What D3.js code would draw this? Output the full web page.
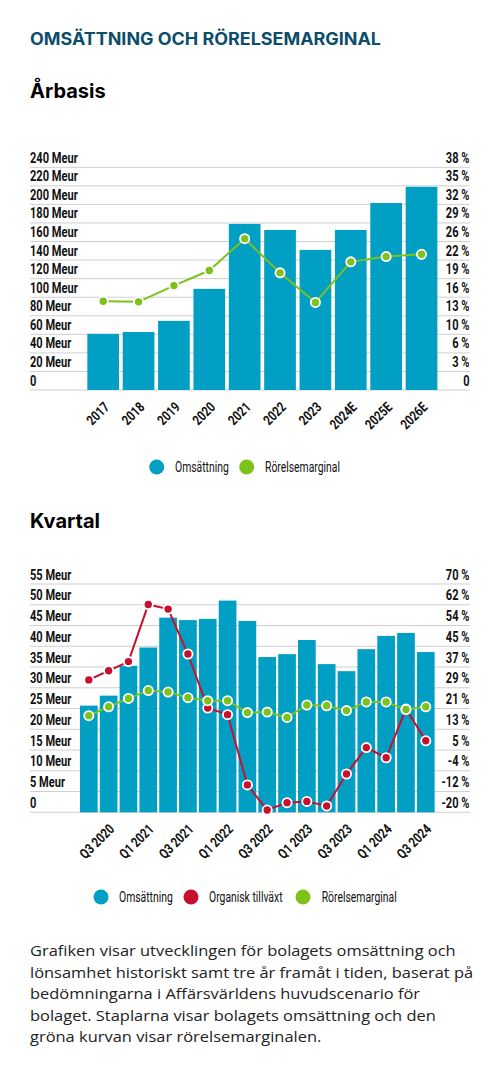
<!DOCTYPE html>
<html>
<head>
<meta charset="utf-8">
<script src="https://cdn.jsdelivr.net/npm/d3@7"></script>
<style>
  html, body { margin: 0; padding: 0; background: #fff; }
  svg { display: block; }
  .ax { font-family: "Roboto", "Liberation Sans", sans-serif; font-weight: bold; fill: #111; }
  .lg { font-family: "Roboto", "Liberation Sans", sans-serif; fill: #111; }
  .hd { font-family: "Inter", "Open Sans", sans-serif; font-weight: bold; }
  .tx { font-family: "Open Sans", "Inter", sans-serif; fill: #222; }
</style>
</head>
<body>
<svg id="c" width="500" height="1079"></svg>
<script>
// ---------- Data: yearly ----------
const years = ["2017","2018","2019","2020","2021","2022","2023","2024E","2025E","2026E"];
const yearRevenue = [60.5, 62.5, 74.5, 109, 179, 172.5, 151, 172.5, 201.5, 219];
const yearMargin = [15.3, 15.2, 18.0, 20.6, 26.1, 20.2, 15.1, 22.1, 23.0, 23.4];
const yearLeftTicks = [0,20,40,60,80,100,120,140,160,180,200,220,240];
const yearLeftLabels = ["0","20 Meur","40 Meur","60 Meur","80 Meur","100 Meur","120 Meur","140 Meur","160 Meur","180 Meur","200 Meur","220 Meur","240 Meur"];
const yearRightLabels = ["0","3 %","6 %","10 %","13 %","16 %","19 %","22 %","26 %","29 %","32 %","35 %","38 %"];

// ---------- Data: quarterly ----------
const quarters = ["Q2 2020","Q3 2020","Q4 2020","Q1 2021","Q2 2021","Q3 2021","Q4 2021","Q1 2022","Q2 2022","Q3 2022","Q4 2022","Q1 2023","Q2 2023","Q3 2023","Q4 2023","Q1 2024","Q2 2024","Q3 2024"];
const qRevenue = [25.7, 28.1, 35.3, 39.7, 46.9, 46.3, 46.6, 51.0, 46.1, 37.4, 38.1, 41.5, 35.7, 34.0, 39.3, 42.5, 43.2, 38.6];
const qGrowth = [32.2, 35.8, 39.4, 61.9, 60.1, 42.4, 21.1, 18.5, -9.2, -19.1, -16.2, -15.7, -17.5, -4.9, 5.5, 1.5, 20.7, 8.2];
const qMargin = [18.1, 21.6, 24.9, 28.0, 27.4, 25.2, 24.0, 24.0, 19.3, 19.5, 17.4, 22.3, 22.0, 20.1, 23.5, 23.5, 20.5, 21.6];
const qTickQuarters = ["Q3 2020","Q1 2021","Q3 2021","Q1 2022","Q3 2022","Q1 2023","Q3 2023","Q1 2024","Q3 2024"];
const qLeftTicks = [0,5,10,15,20,25,30,35,40,45,50,55];
const qLeftLabels = ["0","5 Meur","10 Meur","15 Meur","20 Meur","25 Meur","30 Meur","35 Meur","40 Meur","45 Meur","50 Meur","55 Meur"];
const qRightLabels = ["-20 %","-12 %","-4 %","5 %","13 %","21 %","29 %","37 %","45 %","54 %","62 %","70 %"];

const paragraph = [
  "Grafiken visar utvecklingen för bolagets omsättning och",
  "lönsamhet historiskt samt tre år framåt i tiden, baserat på",
  "bedömningarna i Affärsvärldens huvudscenario för",
  "bolaget. Staplarna visar bolagets omsättning och den",
  "gröna kurvan visar rörelsemarginalen."
];

const BLUE = "#009fc3", GREEN = "#7cc21a", RED = "#c8102e", GRID = "#cfcfcf";
const svg = d3.select("#c");

// horizontally condense/expand text so that a reference string reaches a given width
function measure(cls, size, str) {
  const t = svg.append("text").attr("class", cls).attr("font-size", size).text(str);
  const w = t.node().getComputedTextLength();
  t.remove();
  return w;
}
function fit(sel, factor) {
  sel.each(function() {
    const w = this.getComputedTextLength();
    d3.select(this).attr("textLength", w * factor).attr("lengthAdjust", "spacingAndGlyphs");
  });
}
const AX_SIZE = 14, LG_SIZE = 14, TX_SIZE = 15;
const axFactor = 47.7 / measure("ax", AX_SIZE, "240 Meur");
const lgFactor = 75 / measure("lg", LG_SIZE, "Rörelsemarginal");
const txFactor = 425.7 / measure("tx", TX_SIZE, paragraph[0]);

// Headings
svg.append("text").attr("class","hd").attr("x",30).attr("y",45)
  .attr("font-size",17).attr("fill","#0c4d6b").attr("textLength",351).attr("lengthAdjust","spacingAndGlyphs")
  .text("OMSÄTTNING OCH RÖRELSEMARGINAL");
svg.append("text").attr("class","hd").attr("x",30).attr("y",98)
  .attr("font-size",20).attr("fill","#000").text("Årbasis");
svg.append("text").attr("class","hd").attr("x",30).attr("y",528)
  .attr("font-size",20).attr("fill","#000").text("Kvartal");

function drawChart(cfg) {
  const g = svg.append("g");
  const x = d3.scaleBand().domain(cfg.cats).range(cfg.xr).paddingInner(cfg.pad).paddingOuter(cfg.pad/2);
  const yL = d3.scaleLinear().domain(cfg.yLdom).range([cfg.y0, cfg.y1]);
  const yR = d3.scaleLinear().domain(cfg.yRdom).range([cfg.y0, cfg.y1]);

  // grid
  g.selectAll("line.grid").data(cfg.leftTicks).join("line")
    .attr("x1",30).attr("x2",470)
    .attr("y1",d=>yL(d)).attr("y2",d=>yL(d))
    .attr("stroke",GRID).attr("stroke-width",1);
  // left labels
  g.selectAll("text.l").data(cfg.leftTicks).join("text").attr("class","ax")
    .attr("x",30).attr("y",d=>yL(d)-4.5).attr("font-size",AX_SIZE)
    .text((d,i)=>cfg.leftLabels[i]).call(fit, axFactor);
  // right labels
  g.selectAll("text.r").data(cfg.leftTicks).join("text").attr("class","ax")
    .attr("x",469.5).attr("y",d=>yL(d)-4.5).attr("font-size",AX_SIZE).attr("text-anchor","end")
    .text((d,i)=>cfg.rightLabels[i]).call(fit, axFactor);

  // bars
  g.selectAll("rect.bar").data(cfg.revenue).join("rect")
    .attr("x",(d,i)=>x(cfg.cats[i])).attr("width",x.bandwidth())
    .attr("y",d=>yL(d)).attr("height",d=>yL(0)-yL(d))
    .attr("fill",BLUE);

  // lines
  cfg.lines.forEach(ln => {
    const line = d3.line().x((d,i)=>x(cfg.cats[i])+x.bandwidth()/2).y(d=>yR(d));
    g.append("path").datum(ln.values).attr("d",line)
      .attr("fill","none").attr("stroke",ln.color).attr("stroke-width",2);
    g.selectAll(null).data(ln.values).join("circle")
      .attr("cx",(d,i)=>x(cfg.cats[i])+x.bandwidth()/2).attr("cy",d=>yR(d))
      .attr("r",4.6).attr("fill",ln.color).attr("stroke","#fff").attr("stroke-width",1.8);
  });

  // x labels
  g.selectAll("text.x").data(cfg.tickCats).join("text").attr("class","ax")
    .attr("font-size",AX_SIZE).attr("text-anchor","end")
    .attr("transform",d=>`translate(${x(d)+x.bandwidth()/2+cfg.xlDx},${cfg.xlY}) rotate(-45)`)
    .text(d=>d).call(fit, axFactor);

  // legend
  cfg.legend.forEach(it => {
    g.append("circle").attr("cx",it.cx).attr("cy",cfg.legY).attr("r",7.5).attr("fill",it.color);
    g.append("text").attr("class","lg").attr("x",it.tx).attr("y",cfg.legY).attr("dy","0.36em")
      .attr("font-size",LG_SIZE).text(it.label).call(fit, lgFactor);
  });
}

drawChart({
  cats: years, xr: [85.5, 439.2], pad: 0.104,
  yLdom: [0,240], yRdom: [0,38.4], y0: 390, y1: 167.3,
  leftTicks: yearLeftTicks, leftLabels: yearLeftLabels, rightLabels: yearRightLabels,
  revenue: yearRevenue,
  lines: [{values: yearMargin, color: GREEN}],
  tickCats: years, xlDx: 7, xlY: 408,
  legY: 467,
  legend: [
    {cx:156.7, tx:175, color:BLUE, label:"Omsättning"},
    {cx:246.7, tx:265, color:GREEN, label:"Rörelsemarginal"}
  ]
});

drawChart({
  cats: quarters, xr: [78.9, 435.7], pad: 0.107,
  yLdom: [0,55], yRdom: [-20,70], y0: 812.3, y1: 584,
  leftTicks: qLeftTicks, leftLabels: qLeftLabels, rightLabels: qRightLabels,
  revenue: qRevenue,
  lines: [{values: qGrowth, color: RED}, {values: qMargin, color: GREEN}],
  tickCats: qTickQuarters, xlDx: 6.5, xlY: 830,
  legY: 897,
  legend: [
    {cx:101, tx:119, color:BLUE, label:"Omsättning"},
    {cx:191, tx:209, color:RED, label:"Organisk tillväxt"},
    {cx:303, tx:321.7, color:GREEN, label:"Rörelsemarginal"}
  ]
});

// paragraph
svg.selectAll("text.p").data(paragraph).join("text").attr("class","tx")
  .attr("x",30).attr("y",(d,i)=>956 + i*21.6).attr("font-size",TX_SIZE).text(d=>d)
  .call(fit, txFactor);
</script>
</body>
</html>
